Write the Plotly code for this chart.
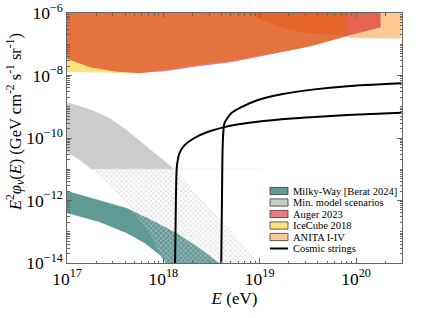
import numpy as np
import plotly.graph_objects as go

# ---------------- data ----------------
# Upper-limit regions (common energy grid, eV) ; fluxes in GeV cm^-2 s^-1 sr^-1
lim_E = [1.0e17, 1.71e17, 3.11e17, 5.65e17, 1.03e18, 2.0e18, 5.21e18, 7.82e18, 9.93e18,
         1.49e19, 2.18e19, 3.27e19, 4.91e19, 7.93e19, 8.93e19, 1.79e20, 2.95e20]
auger_F = [3.49e-8, 1.88e-8, 1.37e-8, 1.21e-8, 1.37e-8, 1.88e-8, 2.72e-8, 3.44e-8, 3.99e-8,
           5.05e-8, 6.53e-8, 8.63e-8, 1.20e-7, 1.87e-7, 2.04e-7, 3.49e-7, None]
icecube_F = [1.30e-8, 1.30e-8, 1.23e-8, 1.16e-8, 1.53e-8, 2.10e-8, 3.03e-8, 3.71e-8, 4.23e-8,
             5.35e-8, 6.67e-8, 8.15e-8, 1.16e-7, 1.80e-7, None, None, None]
anita_F = [None, None, None, None, None, None, None, 1.0e-6, 6.62e-7,
           4.05e-7, 2.80e-7, 2.30e-7, 2.04e-7, 1.80e-7, 1.58e-7, 1.52e-7, 1.52e-7]

# Min. model scenarios band
mm_up_E = [1.0e17, 1.84e17, 2.76e17, 4.14e17, 6.07e17, 9.12e17, 1.30e18, 2.37e18, 4.85e18, 1.04e19]
mm_up_F = [1.40e-9, 7.78e-10, 4.33e-10, 1.79e-10, 6.87e-11, 2.45e-11, 1.0e-11, 1.29e-12, 1.14e-13, 8.7e-15]
mm_lo_E = [1.0e17, 1.35e17, 1.79e17, 3.11e17, 5.38e17, 7.53e17, 1.03e18]
mm_lo_F = [3.55e-11, 1.97e-11, 1.0e-11, 2.16e-12, 2.96e-13, 7.33e-14, 8.7e-15]
mm_cut = 1.0e-11

# Milky-Way [Berat 2024] band
mw_up_E = [1.0e17, 2.17e17, 4.14e17, 7.18e17, 1.37e18, 2.37e18, 4.01e18]
mw_up_F = [2.01e-12, 1.04e-12, 5.77e-13, 2.56e-13, 9.16e-14, 3.03e-14, 8.7e-15]
mw_lo_E = [1.0e17, 2.17e17, 4.14e17, 6.37e17, 9.12e17, 1.10e18]
mw_lo_F = [3.99e-13, 2.06e-13, 9.16e-14, 4.39e-14, 1.82e-14, 8.7e-15]

# Cosmic strings
cs1_E = [1.32e18, 1.35e18, 1.38e18, 1.47e18, 1.66e18, 2.10e18, 2.87e18, 4.31e18, 7.46e18,
         1.68e19, 3.70e19, 8.13e19, 2.95e20]
cs1_F = [5e-15, 1.05e-12, 1.17e-11, 3.3e-11, 5.9e-11, 1.0e-10, 1.55e-10, 2.23e-10, 3.0e-10,
         4.0e-10, 4.7e-10, 5.4e-10, 6.4e-10]
cs2_E = [3.98e18, 4.06e18, 4.10e18, 4.15e18, 4.31e18, 5.09e18, 6.46e18, 9.46e18, 1.68e19,
         3.69e19, 8.13e19, 2.95e20]
cs2_F = [5e-15, 1.05e-12, 1.95e-11, 8.5e-11, 3.0e-10, 6.3e-10, 9.8e-10, 1.62e-9, 2.5e-9,
         3.6e-9, 4.55e-9, 5.6e-9]

legend_names = ["Milky-Way [Berat 2024]", "Min. model scenarios", "Auger 2023",
                "IceCube 2018", "ANITA I-IV", "Cosmic strings"]
legend_colors = ["#5f9a97", "#cbcbcb", "#e87b7b", "#fde27a", "#fec996", "black"]

x_title = "<i>E</i> (eV)"
y_title = ("<i>E</i><sup>2</sup><i>φ</i><sub><i>ν</i></sub>(<i>E</i>) "
           "(GeV cm<sup>-2</sup> s<sup>-1</sup> sr<sup>-1</sup>)")

# ---------------- styles ----------------
C_ANITA, C_ICE, C_AUG = "#fec894", "#fde37b", "#e97a80"
C_AUG_ICE, C_AUG_ANITA, C_ALL = "#e5733f", "#e5644f", "#e5652a"
C_MW, C_MM, C_HATCH = "#5f9a97", "#cccccc", "#cdcdcd"
FONT = "Liberation Serif, Times New Roman, Times, serif"
TOP = 1e-5

fig = go.Figure()

E = np.array(lim_E, dtype=float)
def arr(v):
    return np.array([np.nan if x is None else x for x in v], dtype=float)
A, I, N = arr(auger_F), arr(icecube_F), arr(anita_F)

def limit_region(curves, color):
    bottom = np.max(np.vstack(curves), axis=0)
    m = ~np.isnan(bottom)
    xs, ys = E[m], bottom[m]
    fig.add_trace(go.Scatter(x=list(xs) + [xs[-1], xs[0]], y=list(ys) + [TOP, TOP],
                             fill="toself", fillcolor=color, mode="lines",
                             line=dict(width=0, color=color), hoverinfo="skip",
                             showlegend=False))

limit_region([N], C_ANITA)
limit_region([I], C_ICE)
limit_region([A], C_AUG)
limit_region([A, I], C_AUG_ICE)
limit_region([A, N], C_AUG_ANITA)
limit_region([A, I, N], C_ALL)

# Min. model scenarios: solid above cut, hatched below
uE, uF = np.array(mm_up_E), np.array(mm_up_F)
lE, lF = np.array(mm_lo_E), np.array(mm_lo_F)
us, ls = uF >= mm_cut, lF >= mm_cut
fig.add_trace(go.Scatter(x=list(uE[us]) + list(lE[ls][::-1]), y=list(uF[us]) + list(lF[ls][::-1]),
                         fill="toself", fillcolor=C_MM, mode="lines", line=dict(width=0, color=C_MM),
                         hoverinfo="skip", showlegend=False))

# Milky-Way band
fig.add_trace(go.Scatter(x=mw_up_E + mw_lo_E[::-1], y=mw_up_F + mw_lo_F[::-1],
                         fill="toself", fillcolor=C_MW, mode="lines", line=dict(width=0, color=C_MW),
                         hoverinfo="skip", showlegend=False))

uh, lh = uF <= mm_cut, lF <= mm_cut
fig.add_trace(go.Scatter(x=list(uE[uh]) + list(lE[lh][::-1]) + [uE[uh][0]],
                         y=list(uF[uh]) + list(lF[lh][::-1]) + [uF[uh][0]],
                         fill="toself", fillcolor="rgba(0,0,0,0)", mode="lines",
                         line=dict(width=0, color="rgba(0,0,0,0)"),
                         fillpattern=dict(shape="x", fgcolor=C_HATCH, bgcolor="rgba(0,0,0,0)",
                                          size=3.5, solidity=0.3, fillmode="replace"),
                         hoverinfo="skip", showlegend=False))
# faint upper edge of hatched region
fig.add_trace(go.Scatter(x=[lE[lh][0], uE[uh][-1]], y=[mm_cut, mm_cut], mode="lines",
                         line=dict(width=0.8, color="#ececec"), hoverinfo="skip", showlegend=False))

for ce, cf in [(cs1_E, cs1_F), (cs2_E, cs2_F)]:
    fig.add_trace(go.Scatter(x=ce, y=cf, mode="lines", line=dict(color="black", width=2,
                             shape="spline", smoothing=0.6), hoverinfo="skip", showlegend=False))

# ---------------- layout ----------------
FW, FH = 424, 318
L, R, T, B = 67, 22, 13, 55
W, H = FW - L - R, FH - T - B
def px(x): return (x - L) / W          # figure px -> paper
def py(y): return (FH - B - y) / H
rows = [191, 202.5, 214, 225.5, 237, 248.5]
shapes = []
annotations = []
for name, col, yy in zip(legend_names, legend_colors, rows):
    if name == "Cosmic strings":
        shapes.append(dict(type="line", xref="paper", yref="paper", x0=px(270), x1=px(288),
                           y0=py(yy), y1=py(yy), line=dict(color="black", width=2)))
    else:
        shapes.append(dict(type="rect", xref="paper", yref="paper", x0=px(270), x1=px(288),
                           y0=py(yy + 3.6), y1=py(yy - 3.6), fillcolor=col,
                           line=dict(color="#3a3a3a", width=0.8)))
    annotations.append(dict(text=name, xref="paper", yref="paper", x=px(291), y=py(yy),
                            xanchor="left", yanchor="middle", showarrow=False,
                            font=dict(family=FONT, size=10.5, color="black")))
# y-axis title
annotations.append(dict(text=y_title, xref="paper", yref="paper", x=px(15), y=py(122),
                        xanchor="center", yanchor="middle", textangle=-90, showarrow=False,
                        font=dict(family=FONT, size=16.5, color="black")))

axis_common = dict(type="log", showgrid=False, zeroline=False, showline=True, linecolor="#666",
                   linewidth=1.2, mirror="allticks", ticks="inside", ticklen=5, tickwidth=1,
                   tickcolor="#666", exponentformat="power", automargin=False,
                   ticklabeloverflow="allow",
                   tickfont=dict(family=FONT, size=14, color="black"))

fig.update_layout(
    width=FW, height=FH, margin=dict(l=L, r=R, t=T, b=B, autoexpand=False),
    paper_bgcolor="white", plot_bgcolor="white",
    font=dict(family=FONT, color="black"),
    hovermode=False,
    xaxis=dict(**axis_common, range=[17, np.log10(3e20)], dtick=1,
               minor=dict(ticks="inside", ticklen=2.5, tickcolor="#666", dtick="D1", showgrid=False),
               title=dict(text=x_title, font=dict(family=FONT, size=17, color="black"),
                          standoff=4)),
    yaxis=dict(**axis_common, range=[-14, -6], dtick=2, tick0=0,
               minor=dict(ticks="inside", ticklen=2.5, tickcolor="#666", dtick="D1", showgrid=False)),
    shapes=shapes, annotations=annotations, showlegend=False,
)

fig.write_html("out.html", config={"displayModeBar": False, "staticPlot": True},
               post_script="document.body.style.margin='0px';")
